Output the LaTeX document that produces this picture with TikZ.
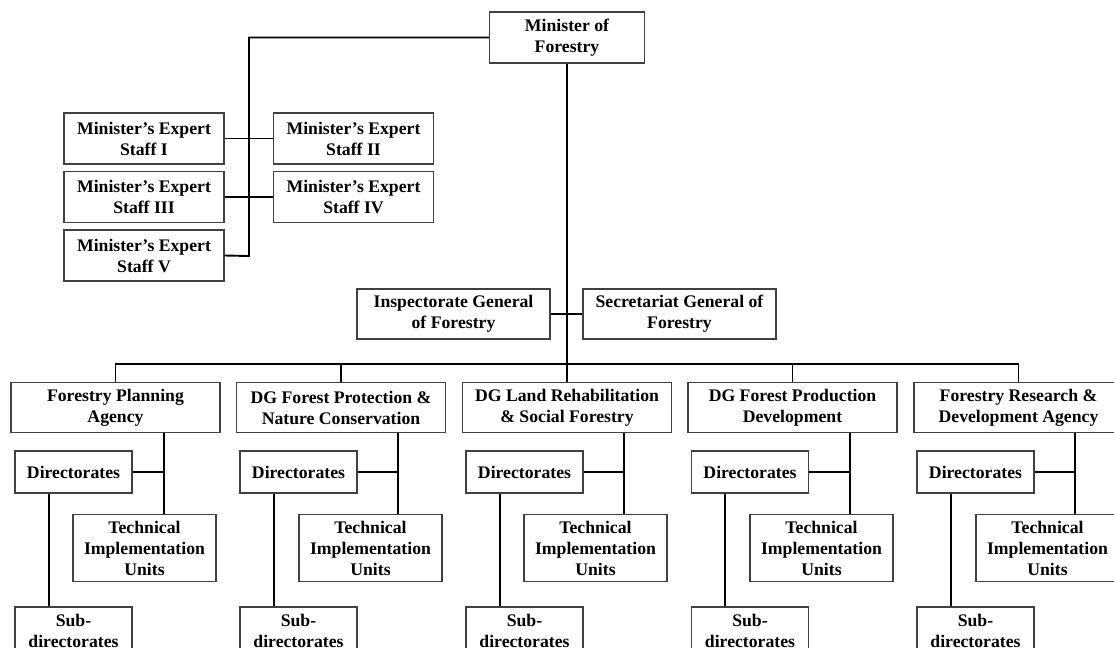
\documentclass[tikz,border=0pt]{standalone}
\usepackage{fontspec}
\setmainfont{Liberation Serif}
\usetikzlibrary{positioning}

\begin{document}
\begin{tikzpicture}[
            x=1pt, y=-1pt,
            box/.style={draw=black!75, line width=1.1pt, fill=white, align=center, inner sep=1pt,
                        font=\fontsize{17.7}{21}\selectfont\bfseries},
            top/.style={box, minimum width=155, minimum height=51},
            staff/.style={box, minimum width=160, minimum height=51},
            office/.style={box, minimum width=193, minimum height=50},
            unit/.style={box, minimum width=209, minimum height=50},
            dir/.style={box, minimum width=117, minimum height=42},
            tiu/.style={box, minimum width=143, minimum height=67},
            sub/.style={box, minimum width=117, minimum height=48},
            link/.style={line width=1.9pt, black}
        ]
            \useasboundingbox (0,0) rectangle (1114,648);

% --- minister and expert staff ---
            \node[top] (minister) at (567,37.5) {Minister of\\Forestry};

            \node[staff] (staff1) at (144,138.5) {Minister's Expert\\Staff I};
            \node[staff] (staff2) at (353.5,138.5) {Minister's Expert\\Staff II};
            \node[staff] (staff3) at (144,197) {Minister's Expert\\Staff III};
            \node[staff] (staff4) at (353.5,197) {Minister's Expert\\Staff IV};
            \node[staff] (staff5) at (144,255.5) {Minister's Expert\\Staff V};

% --- inspectorate / secretariat ---
            \node[office] (insp) at (453.5,314) {Inspectorate General\\of Forestry};
            \node[office] (sec) at (679.5,314) {Secretariat General of\\Forestry};

% --- echelon one units ---
            \node[unit] (fpa) at (115.5,407.5) {Forestry Planning\\Agency};
            \node[unit] (dgp) at (341,407.5) {DG Forest Protection \&\\Nature Conservation};
            \node[unit] (dgl) at (567,407.5) {DG Land Rehabilitation\\\& Social Forestry};
            \node[unit] (dgf) at (792.5,407.5) {DG Forest Production\\Development};
            \node[unit] (frda) at (1018.5,407.5) {Forestry Research \&\\Development Agency};

% --- directorates ---
            \node[dir] (dir1) at (73.5,472) {Directorates};
            \node[dir] (dir2) at (298.5,472) {Directorates};
            \node[dir] (dir3) at (524.5,472) {Directorates};
            \node[dir] (dir4) at (750,472) {Directorates};
            \node[dir] (dir5) at (975.5,472) {Directorates};

% --- technical implementation units ---
            \node[tiu] (tiu1) at (144.5,548) {Technical\\Implementation\\Units};
            \node[tiu] (tiu2) at (370.5,548) {Technical\\Implementation\\Units};
            \node[tiu] (tiu3) at (595.5,548) {Technical\\Implementation\\Units};
            \node[tiu] (tiu4) at (821.5,548) {Technical\\Implementation\\Units};
            \node[tiu] (tiu5) at (1047.5,548) {Technical\\Implementation\\Units};

% --- sub-directorates ---
            \node[sub] (sub1) at (73.5,631) {Sub-\\directorates};
            \node[sub] (sub2) at (298.5,631) {Sub-\\directorates};
            \node[sub] (sub3) at (524.5,631) {Sub-\\directorates};
            \node[sub] (sub4) at (750,631) {Sub-\\directorates};
            \node[sub] (sub5) at (975.5,631) {Sub-\\directorates};

% --- junction points ---
            \coordinate (stj) at (249,256);
            \coordinate (bus) at (567,364);
            \coordinate (j1) at (164,472);
            \coordinate (j2) at (398,472);
            \coordinate (j3) at (624,472);
            \coordinate (j4) at (850,472);
            \coordinate (j5) at (1075,472);
            \coordinate (k1) at (49,550);
            \coordinate (k2) at (274,550);
            \coordinate (k3) at (500,550);
            \coordinate (k4) at (725,550);
            \coordinate (k5) at (951,550);

% --- top connectors ---
            \draw[link] (minister.west) -| (stj) -- (staff5.east);
            \draw[link] (staff1.east) -- (staff2.west);
            \draw[link] (staff3.east) -- (staff4.west);
            \draw[link] (minister.south) -- (dgl.north);
            \draw[link] (insp.east) -- (sec.west);

% --- bus to echelon one ---
            \draw[link] (fpa.north) |- (bus) -| (frda.north);
            \draw[link] (dgp.north) -- (dgp.north |- bus);
            \draw[link] (dgf.north) -- (dgf.north |- bus);

% --- inside each unit ---
            \draw[link] (fpa.south -| j1) -- (tiu1.north -| j1);
            \draw[link] (dir1.east) -- (j1);
            \draw[link] (dir1.south -| k1) -- (sub1.north -| k1);

            \draw[link] (dgp.south -| j2) -- (tiu2.north -| j2);
            \draw[link] (dir2.east) -- (j2);
            \draw[link] (dir2.south -| k2) -- (sub2.north -| k2);

            \draw[link] (dgl.south -| j3) -- (tiu3.north -| j3);
            \draw[link] (dir3.east) -- (j3);
            \draw[link] (dir3.south -| k3) -- (sub3.north -| k3);

            \draw[link] (dgf.south -| j4) -- (tiu4.north -| j4);
            \draw[link] (dir4.east) -- (j4);
            \draw[link] (dir4.south -| k4) -- (sub4.north -| k4);

            \draw[link] (frda.south -| j5) -- (tiu5.north -| j5);
            \draw[link] (dir5.east) -- (j5);
            \draw[link] (dir5.south -| k5) -- (sub5.north -| k5);

        \end{tikzpicture}
\end{document}
